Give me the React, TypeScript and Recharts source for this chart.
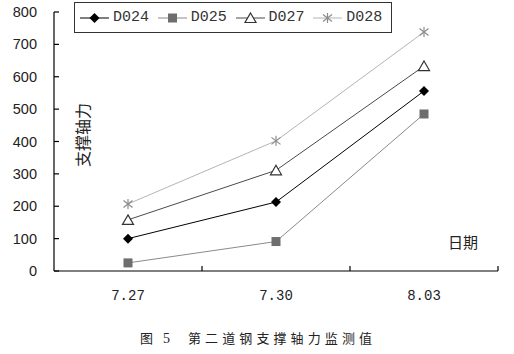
import React from "react";
import { LineChart, Line, XAxis, YAxis } from "recharts";

const categories = ["7.27", "7.30", "8.03"];
const d024 = [100, 213, 556];
const d025 = [25, 91, 485];
const d027 = [158, 311, 633];
const d028 = [207, 402, 738];
const yTicks = [0, 100, 200, 300, 400, 500, 600, 700, 800];
const seriesNames = ["D024", "D025", "D027", "D028"];

const data = categories.map((name, i) => ({
  x: i + 0.5,
  name,
  D024: d024[i],
  D025: d025[i],
  D027: d027[i],
  D028: d028[i],
}));

const colors: Record<string, string> = {
  D024: "#000000",
  D025: "#8a8a8a",
  D027: "#4a4a4a",
  D028: "#b4b4b4",
};

function Marker({ name, cx, cy }: { name: string; cx: number; cy: number }) {
  if (name === "D024") {
    return <polygon points={`${cx},${cy - 5} ${cx + 5},${cy} ${cx},${cy + 5} ${cx - 5},${cy}`} fill="#000" />;
  }
  if (name === "D025") {
    return <rect x={cx - 4.5} y={cy - 4.5} width={9} height={9} fill="#6e6e6e" />;
  }
  if (name === "D027") {
    return (
      <polygon
        points={`${cx},${cy - 5} ${cx + 5.5},${cy + 4.5} ${cx - 5.5},${cy + 4.5}`}
        fill="#fff"
        stroke="#333"
        strokeWidth={1.2}
      />
    );
  }
  return (
    <g stroke="#8c8c8c" strokeWidth={1.2}>
      <line x1={cx} y1={cy - 5} x2={cx} y2={cy + 5} />
      <line x1={cx - 4.5} y1={cy - 3.5} x2={cx + 4.5} y2={cy + 3.5} />
      <line x1={cx - 4.5} y1={cy + 3.5} x2={cx + 4.5} y2={cy - 3.5} />
    </g>
  );
}

const makeDot = (name: string) => (props: any) => (
  <Marker key={`${name}-${props.index}`} name={name} cx={props.cx} cy={props.cy} />
);

// integer ticks = category boundaries (inward tick marks), half ticks = labels
const XTick = (props: any) => {
  const { x, y, payload } = props;
  if (Number.isInteger(payload.value)) {
    return <line x1={x} y1={y} x2={x} y2={y - 5} stroke="#000" strokeWidth={1.2} />;
  }
  return (
    <text x={x} y={y + 29} textAnchor="middle" fontFamily="Liberation Mono" fontSize={14} fill="#222">
      {categories[Math.floor(payload.value)]}
    </text>
  );
};

const YTick = (props: any) => {
  const { x, y, payload } = props;
  return (
    <g>
      <line x1={x} y1={y} x2={x + 5} y2={y} stroke="#000" strokeWidth={1.2} />
      <text x={x - 17} y={y + 5} textAnchor="end" fontFamily="Liberation Sans" fontSize={14.5} fill="#222">
        {payload.value}
      </text>
    </g>
  );
};

export default function App() {
  return (
    <div style={{ position: "absolute", left: 0, top: 0, width: 514, height: 354, background: "#fff" }}>
      <LineChart width={514} height={354} data={data} margin={{ top: 12, right: 16, left: 0, bottom: 0 }}>
        <XAxis
          type="number"
          dataKey="x"
          domain={[0, 3]}
          ticks={[0.5, 1, 1.5, 2, 2.5, 3]}
          height={83}
          tickSize={0}
          tickMargin={0}
          tickLine={false}
          tick={<XTick />}
          stroke="#000"
          strokeWidth={1.2}
          interval={0}
        />
        <YAxis
          domain={[0, 800]}
          ticks={yTicks}
          width={54}
          tickSize={0}
          tickMargin={0}
          tickLine={false}
          tick={<YTick />}
          stroke="#000"
          strokeWidth={1.2}
          interval={0}
        />
        {seriesNames.map((name) => (
          <Line
            key={name}
            dataKey={name}
            stroke={colors[name]}
            strokeWidth={1}
            dot={makeDot(name)}
            activeDot={false}
            isAnimationActive={false}
          />
        ))}
      </LineChart>

      <div
        style={{
          position: "absolute",
          left: 74,
          top: 2,
          width: 311,
          height: 29,
          border: "1.5px solid #333",
          display: "flex",
          alignItems: "center",
          paddingLeft: 5,
          fontFamily: "Liberation Mono",
          fontSize: 15,
          color: "#333",
        }}
      >
        {seriesNames.map((name) => (
          <div key={name} style={{ display: "flex", alignItems: "center", width: 79 }}>
            <svg width={29} height={14}>
              <line x1={0} y1={7} x2={29} y2={7} stroke={colors[name]} strokeWidth={1} />
              <Marker name={name} cx={14.5} cy={7} />
            </svg>
            <span style={{ marginLeft: 4 }}>{name}</span>
          </div>
        ))}
      </div>

      <div
        style={{
          position: "absolute",
          left: 82,
          top: 135,
          transform: "translate(-50%, -50%) rotate(-90deg)",
          fontFamily: "Noto Sans CJK SC",
          fontSize: 16,
          lineHeight: "16px",
          whiteSpace: "nowrap",
          color: "#222",
        }}
      >
        支撑轴力
      </div>

      <div
        style={{
          position: "absolute",
          left: 448,
          top: 233,
          fontFamily: "Noto Sans CJK SC",
          fontSize: 15,
          lineHeight: "18px",
          color: "#222",
        }}
      >
        日期
      </div>

      <div
        style={{
          position: "absolute",
          left: 140,
          top: 329,
          fontFamily: "Noto Sans CJK SC",
          fontSize: 13,
          lineHeight: "18px",
          whiteSpace: "nowrap",
          color: "#222",
        }}
      >
        <span>图</span>
        <span style={{ marginLeft: 10, fontFamily: "Liberation Serif", fontSize: 14 }}>5</span>
        <span style={{ marginLeft: 18, letterSpacing: 4.1 }}>第二道钢支撑轴力监测值</span>
      </div>
    </div>
  );
}
